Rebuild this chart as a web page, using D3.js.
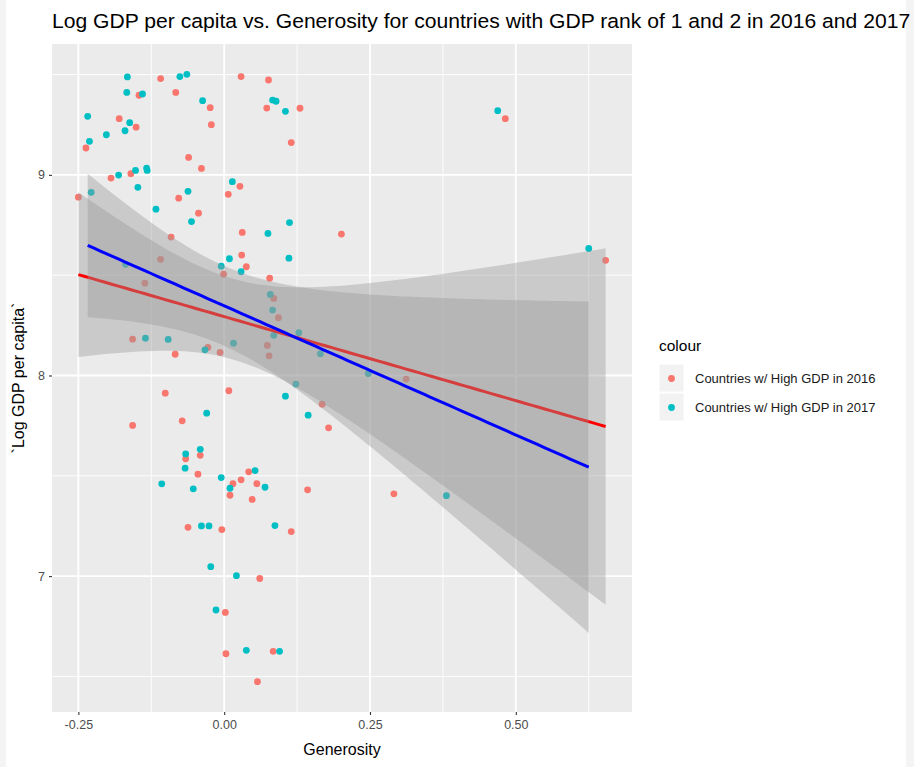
<!DOCTYPE html>
<html>
<head>
<meta charset="utf-8">
<script src="https://cdn.jsdelivr.net/npm/d3@7/dist/d3.min.js"></script>
<style>
  html, body { margin: 0; padding: 0; background: #ffffff; }
  svg { display: block; font-family: "Liberation Sans", Arial, Helvetica, sans-serif; }
</style>
</head>
<body>
<svg id="chart" width="914" height="767"></svg>
<script>
// ---------------- DATA ----------------
const titleText = "Log GDP per capita vs. Generosity for countries with GDP rank of 1 and 2 in 2016 and 2017";
const xTitle = "Generosity";
const yTitle = "`Log GDP per capita`";
const legendTitle = "colour";
const seriesNames = ["Countries w/ High GDP in 2016", "Countries w/ High GDP in 2017"];
const seriesColors = ["#F8766D", "#00BFC4"];
const lineColors = ["#FF0000", "#0000FF"];

const xTicks = [-0.25, 0, 0.25, 0.5];
const xTickLabels = ["-0.25", "0.00", "0.25", "0.50"];
const xMinor = [-0.125, 0.125, 0.375, 0.625];
const yTicks = [7, 8, 9];
const yTickLabels = ["7", "8", "9"];
const yMinor = [6.5, 7.5, 8.5, 9.5];

// Countries w/ High GDP in 2016 : Generosity
const gen2016 = [-0.109, 0.029, -0.146, -0.083, -0.024, -0.180, -0.151, -0.022, -0.237, -0.061,
  -0.039, -0.194, -0.160, 0.027, -0.250, -0.078, -0.044, 0.007, 0.031, -0.091,
  0.030, -0.109, 0.076, 0.073, 0.130, 0.115, 0.201, -0.136, 0.038, -0.001,
  -0.157, -0.084, -0.028, -0.007, -0.101, 0.008, -0.157, -0.072, 0.078, 0.085,
  0.093, 0.074, 0.077, 0.312, 0.168, 0.179, -0.066, -0.041, -0.045, 0.015,
  0.029, 0.042, 0.010, 0.048, 0.056, 0.143, 0.291, -0.062, -0.004, 0.115,
  0.061, 0.002, 0.003, 0.084, 0.057, 0.482, 0.654];
// Countries w/ High GDP in 2016 : Log GDP per capita
const gdp2016 = [9.480, 9.490, 9.397, 9.411, 9.335, 9.280, 9.238, 9.250, 9.134, 9.087,
  9.032, 8.984, 9.006, 8.943, 8.889, 8.884, 8.809, 8.903, 8.713, 8.690,
  8.600, 8.579, 9.473, 9.333, 9.332, 9.161, 8.705, 8.460, 8.542, 8.505,
  8.181, 8.106, 8.140, 8.115, 7.912, 7.924, 7.751, 7.774, 8.485, 8.384,
  8.288, 8.150, 8.098, 7.982, 7.857, 7.739, 7.585, 7.602, 7.508, 7.461,
  7.480, 7.520, 7.403, 7.382, 7.461, 7.430, 7.410, 7.243, 7.232, 7.222,
  6.988, 6.819, 6.613, 6.625, 6.474, 9.280, 8.574];

// Countries w/ High GDP in 2017 : Generosity
const gen2017 = [-0.166, -0.076, -0.064, -0.167, -0.140, -0.037, -0.234, -0.162, -0.170, -0.202,
  -0.231, -0.152, -0.133, -0.132, -0.181, -0.148, 0.014, -0.228, -0.062, -0.117,
  -0.056, 0.009, 0.083, 0.089, 0.105, 0.075, 0.112, 0.111, -0.169, -0.005,
  0.029, -0.135, -0.096, -0.033, 0.016, -0.030, -0.041, 0.079, 0.083, 0.085,
  0.128, 0.165, 0.247, 0.123, 0.105, 0.144, -0.066, -0.067, -0.107, -0.053,
  -0.005, 0.010, 0.053, 0.070, -0.039, -0.026, 0.087, -0.023, 0.021, -0.014,
  0.038, 0.095, 0.381, 0.469, 0.625];
// Countries w/ High GDP in 2017 : Log GDP per capita
const gdp2017 = [9.488, 9.490, 9.501, 9.411, 9.403, 9.370, 9.292, 9.260, 9.220, 9.200,
  9.167, 9.022, 9.034, 9.022, 8.999, 8.938, 8.966, 8.913, 8.918, 8.829,
  8.767, 8.582, 9.373, 9.367, 9.317, 8.708, 8.762, 8.585, 8.554, 8.545,
  8.517, 8.186, 8.180, 8.128, 8.161, 7.812, 7.632, 8.404, 8.326, 8.200,
  8.213, 8.108, 8.010, 7.957, 7.897, 7.802, 7.609, 7.538, 7.460, 7.435,
  7.491, 7.438, 7.526, 7.443, 7.250, 7.250, 7.252, 7.047, 7.002, 6.831,
  6.630, 6.625, 7.401, 9.320, 8.633];

// ---------------- LAYOUT ----------------
const W = 914, H = 767;
const panel = { left: 52, right: 632, top: 44, bottom: 712 };

const svg = d3.select("#chart");

// thin screenshot frame strips
svg.append("rect").attr("x", 0).attr("y", 0).attr("width", 6).attr("height", H).attr("fill", "#f4f4f4");
svg.append("rect").attr("x", 906).attr("y", 0).attr("width", 8).attr("height", H).attr("fill", "#f4f4f4");

// ---------------- STATS (linear model with 95% CI, as geom_smooth(method="lm")) ----------------
function tQuantile975(df) {
  const z = 1.959964;
  const z3 = z * z * z, z5 = z3 * z * z;
  return z + (z3 + z) / (4 * df) + (5 * z5 + 16 * z3 + 3 * z) / (96 * df * df);
}
function lmFit(xs, ys, nOut) {
  const n = xs.length;
  const mx = d3.mean(xs), my = d3.mean(ys);
  let sxx = 0, sxy = 0;
  for (let i = 0; i < n; i++) { sxx += (xs[i] - mx) ** 2; sxy += (xs[i] - mx) * (ys[i] - my); }
  const b = sxy / sxx, a = my - b * mx;
  let sse = 0;
  for (let i = 0; i < n; i++) sse += (ys[i] - a - b * xs[i]) ** 2;
  const s = Math.sqrt(sse / (n - 2));
  const t = tQuantile975(n - 2);
  const [x0, x1] = d3.extent(xs);
  return d3.range(nOut).map(i => {
    const x = x0 + (x1 - x0) * i / (nOut - 1);
    const fit = a + b * x;
    const se = s * Math.sqrt(1 / n + (x - mx) ** 2 / sxx);
    return { x, y: fit, lo: fit - t * se, hi: fit + t * se };
  });
}
const groups = [
  { xs: gen2016, ys: gdp2016 },
  { xs: gen2017, ys: gdp2017 }
];
groups.forEach(g => { g.fit = lmFit(g.xs, g.ys, 80); });

// ---------------- SCALES (ggplot-like 5% expansion) ----------------
const allX = gen2016.concat(gen2017);
const allY = gdp2016.concat(gdp2017)
  .concat(groups.flatMap(g => g.fit.map(d => d.lo)))
  .concat(groups.flatMap(g => g.fit.map(d => d.hi)));
function expand(ext) { const r = ext[1] - ext[0]; return [ext[0] - 0.05 * r, ext[1] + 0.05 * r]; }
const x = d3.scaleLinear().domain(expand(d3.extent(allX))).range([panel.left, panel.right]);
const y = d3.scaleLinear().domain(expand(d3.extent(allY))).range([panel.bottom, panel.top]);

// ---------------- PANEL ----------------
svg.append("rect")
  .attr("x", panel.left).attr("y", panel.top)
  .attr("width", panel.right - panel.left).attr("height", panel.bottom - panel.top)
  .attr("fill", "#EBEBEB");

const grid = svg.append("g");
grid.selectAll(".ymin").data(yMinor).join("line")
  .attr("x1", panel.left).attr("x2", panel.right)
  .attr("y1", d => y(d)).attr("y2", d => y(d))
  .attr("stroke", "#ffffff").attr("stroke-width", 0.9);
grid.selectAll(".xmin").data(xMinor).join("line")
  .attr("y1", panel.top).attr("y2", panel.bottom)
  .attr("x1", d => x(d)).attr("x2", d => x(d))
  .attr("stroke", "#ffffff").attr("stroke-width", 0.9);
grid.selectAll(".ymaj").data(yTicks).join("line")
  .attr("x1", panel.left).attr("x2", panel.right)
  .attr("y1", d => y(d)).attr("y2", d => y(d))
  .attr("stroke", "#ffffff").attr("stroke-width", 1.8);
grid.selectAll(".xmaj").data(xTicks).join("line")
  .attr("y1", panel.top).attr("y2", panel.bottom)
  .attr("x1", d => x(d)).attr("x2", d => x(d))
  .attr("stroke", "#ffffff").attr("stroke-width", 1.8);

// ---------------- AXES ----------------
const xAxis = d3.axisBottom(x).tickValues(xTicks)
  .tickFormat((d, i) => xTickLabels[i]).tickSize(3).tickPadding(5);
const gx = svg.append("g").attr("transform", `translate(0,${panel.bottom})`).call(xAxis);
const yAxis = d3.axisLeft(y).tickValues(yTicks)
  .tickFormat((d, i) => yTickLabels[i]).tickSize(3).tickPadding(4);
const gy = svg.append("g").attr("transform", `translate(${panel.left},0)`).call(yAxis);
[gx, gy].forEach(g => {
  g.select(".domain").remove();
  g.selectAll(".tick line").attr("stroke", "#333333").attr("stroke-width", 1.1);
  g.selectAll(".tick text").attr("fill", "#4D4D4D").attr("font-size", "12.5px")
    .attr("font-family", "'Liberation Sans', Arial, sans-serif");
});

// ---------------- POINTS ----------------
const pts = svg.append("g");
groups.forEach((g, gi) => {
  pts.selectAll(null).data(g.xs.map((v, i) => [v, g.ys[i]])).join("circle")
    .attr("cx", d => x(d[0])).attr("cy", d => y(d[1]))
    .attr("r", 3.4).attr("fill", seriesColors[gi]);
});

// ---------------- SMOOTHS (ribbon then line per group) ----------------
const area = d3.area().x(d => x(d.x)).y0(d => y(d.lo)).y1(d => y(d.hi));
const line = d3.line().x(d => x(d.x)).y(d => y(d.y));
groups.forEach((g, gi) => {
  svg.append("path").datum(g.fit).attr("d", area)
    .attr("fill", "#999999").attr("fill-opacity", 0.4);
  svg.append("path").datum(g.fit).attr("d", line)
    .attr("fill", "none").attr("stroke", lineColors[gi]).attr("stroke-width", 3);
});

// ---------------- TITLES ----------------
const title = svg.append("text")
  .attr("x", panel.left).attr("y", 28)
  .attr("fill", "#000000").attr("font-size", "18px")
  .text(titleText);
// fit title width so that it reaches the right edge of the picture
const tw = title.node().getComputedTextLength();
title.attr("font-size", (18 * 858 / tw).toFixed(2) + "px");

svg.append("text")
  .attr("x", (panel.left + panel.right) / 2).attr("y", 755)
  .attr("text-anchor", "middle").attr("font-size", "16px").attr("fill", "#000")
  .text(xTitle);

svg.append("text")
  .attr("transform", `translate(24,${(panel.top + panel.bottom) / 2}) rotate(-90)`)
  .attr("text-anchor", "middle").attr("font-size", "16px").attr("fill", "#000")
  .text(yTitle);

// ---------------- LEGEND ----------------
const lg = svg.append("g").attr("transform", "translate(659,0)");
lg.append("text").attr("x", 0).attr("y", 351).attr("font-size", "15.5px").attr("fill", "#000").text(legendTitle);
seriesNames.forEach((name, i) => {
  const ky = 364 + i * 29;
  lg.append("rect").attr("x", 0).attr("y", ky).attr("width", 25).attr("height", 28)
    .attr("fill", "#F2F2F2").attr("stroke", "#ffffff").attr("stroke-width", 1);
  lg.append("circle").attr("cx", 12.5).attr("cy", ky + 14.5).attr("r", 3.4).attr("fill", seriesColors[i]);
  lg.append("text").attr("x", 36).attr("y", ky + 14.5).attr("dy", "0.35em")
    .attr("font-size", "13px").attr("fill", "#1a1a1a").text(name);
});
</script>
</body>
</html>
